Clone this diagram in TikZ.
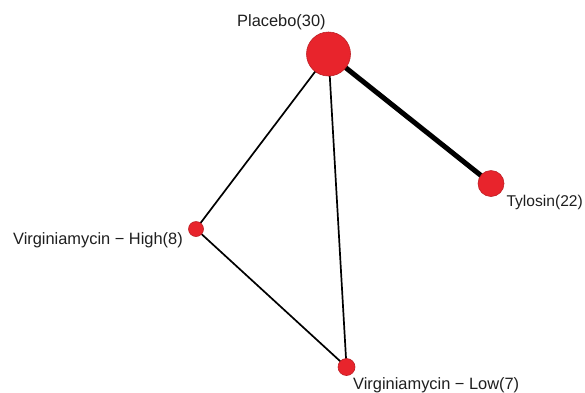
\documentclass[tikz,border=0pt]{standalone}
\usepackage{fontspec}
\setmainfont{Liberation Sans}
\definecolor{nodered}{RGB}{232,36,44}
\definecolor{nodeedge}{RGB}{190,30,36}
\begin{document}
\begin{tikzpicture}[x=1pt,y=-1pt,
  vert/.style={circle,fill=nodered,draw=nodeedge,line width=0.6pt,inner sep=0pt},
  edge/.style={draw=black,line width=1.7pt},
  thickedge/.style={draw=black,line width=5pt},
  lab/.style={font=\fontsize{16.4}{18}\selectfont,inner sep=0pt,text=black!88}]
\useasboundingbox[fill=white] (0,0) rectangle (585,392);
\coordinate (cp) at (328.5,54);
\coordinate (ct) at (491,183.5);
\coordinate (ch) at (196,229);
\coordinate (cl) at (346.5,367);
\draw[thickedge] (cp) -- (ct);
\draw[edge] (cp) -- (ch);
\draw[edge] (cp) -- (cl);
\draw[edge] (ch) -- (cl);
\node[vert,minimum size=44pt] (p) at (cp) {};
\node[vert,minimum size=26pt] (t) at (ct) {};
\node[vert,minimum size=15pt] (h) at (ch) {};
\node[vert,minimum size=17pt] (l) at (cl) {};
\node[lab,anchor=base west] (lp) at (237,26) {Placebo(30)};
\node[lab,anchor=base east,font=\fontsize{15.6}{18}\selectfont] (lt) at (583,206) {Tylosin(22)};
\node[lab,anchor=base east] (lh) at (183,244.5) {Virginiamycin − High(8)};
\node[lab,anchor=base west] (ll) at (353,389.5) {Virginiamycin − Low(7)};
\end{tikzpicture}
\end{document}
